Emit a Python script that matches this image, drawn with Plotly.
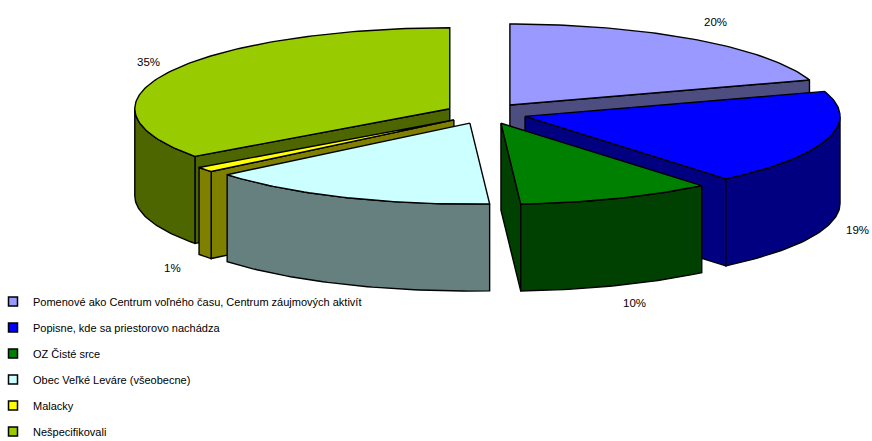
import numpy as np
import plotly.graph_objects as go

categories = [
    'Pomenové ako Centrum voľného času, Centrum záujmových aktivít',
    'Popisne, kde sa priestorovo nachádza',
    'OZ Čisté srce',
    'Obec Veľké Leváre (všeobecne)',
    'Malacky',
    'Nešpecifikovali',
]
values = [20, 19, 10, 15, 1, 35]
show_label = [True, True, True, False, True, True]

top_colors = ['#9999FF', '#0000FF', '#008000', '#CCFFFF', '#FFFF00', '#99CC00']
side_colors = ['#4D4D80', '#000080', '#004000', '#668080', '#808000', '#4D6600']

# pseudo-3D pie geometry (pixel space)
CX, CY = 486, 113.5
RX, RY = 315, 81
DEPTH = 87
EXPLODE = 0.129

# label spots for the percentage texts
label_pos = [(715, 22), (857, 230), (634, 303), (0, 0), (172, 268), (148, 62)]

total = sum(values)
bounds = np.cumsum([0] + values) / total * 360.0


def rim(apex, th, dz=0.0):
    t = np.radians(th)
    return apex[0] + RX * np.sin(t), apex[1] - RY * np.cos(t) + dz


def arc(apex, t0, t1, dz=0.0):
    n = max(2, int(abs(t1 - t0)) + 2)
    ts = np.radians(np.linspace(t0, t1, n))
    return list(apex[0] + RX * np.sin(ts)), list(apex[1] - RY * np.cos(ts) + dz)


def poly(xs, ys, color):
    return go.Scatter(x=xs + [xs[0]], y=ys + [ys[0]], mode='lines', fill='toself',
                      fillcolor=color, line=dict(color='black', width=1.4),
                      hoverinfo='skip', showlegend=False)


slices = []
for i in range(len(values)):
    t0, t1 = bounds[i], bounds[i + 1]
    mid = np.radians((t0 + t1) / 2)
    apex = (CX + RX * EXPLODE * np.sin(mid), CY - RY * EXPLODE * np.cos(mid))
    slices.append((np.cos(mid), i, t0, t1, apex))

fig = go.Figure()

# back to front
for _, i, t0, t1, apex in sorted(slices, key=lambda s: -s[0]):
    side = side_colors[i]
    # start wall
    if np.sin(np.radians(t0)) < -1e-6:
        x1, y1 = rim(apex, t0)
        fig.add_trace(poly([apex[0], x1, x1, apex[0]],
                           [apex[1], y1, y1 + DEPTH, apex[1] + DEPTH], side))
    # end wall
    if np.sin(np.radians(t1)) > 1e-6:
        x1, y1 = rim(apex, t1)
        fig.add_trace(poly([apex[0], x1, x1, apex[0]],
                           [apex[1], y1, y1 + DEPTH, apex[1] + DEPTH], side))
    # outer curved face (front half only)
    a0, a1 = max(t0, 90), min(t1, 270)
    if a1 > a0:
        xt, yt = arc(apex, a0, a1)
        xb, yb = arc(apex, a1, a0, DEPTH)
        fig.add_trace(poly(xt + xb, yt + yb, side))
    # top face
    xt, yt = arc(apex, t0, t1)
    fig.add_trace(poly([apex[0]] + xt, [apex[1]] + yt, top_colors[i]))

for i, cat in enumerate(categories):
    fig.add_trace(go.Scatter(
        x=[None], y=[None], mode='markers', name=cat, legendgroup=cat,
        marker=dict(symbol='square', size=9, color=top_colors[i],
                    line=dict(color='black', width=1.5))))

for i, v in enumerate(values):
    if show_label[i]:
        fig.add_annotation(x=label_pos[i][0], y=label_pos[i][1], text=f'{v}%',
                           showarrow=False, font=dict(size=11.5, color='black'))

fig.update_layout(
    width=872, height=441,
    margin=dict(l=0, r=0, t=0, b=0, autoexpand=False),
    paper_bgcolor='white', plot_bgcolor='white',
    font=dict(family='Liberation Sans, Arial, sans-serif', size=11, color='black'),
    xaxis=dict(range=[0, 872], visible=False, fixedrange=True),
    yaxis=dict(range=[441, 0], visible=False, fixedrange=True),
    showlegend=True,
    legend=dict(x=-7 / 872, y=1 - 287 / 441, xanchor='left', yanchor='top',
                traceorder='grouped', tracegroupgap=7, itemwidth=30,
                bgcolor='rgba(0,0,0,0)', font=dict(size=11)),
)

fig.write_html('out.html', config={'displayModeBar': False},
               post_script="document.body.style.margin='0';")
